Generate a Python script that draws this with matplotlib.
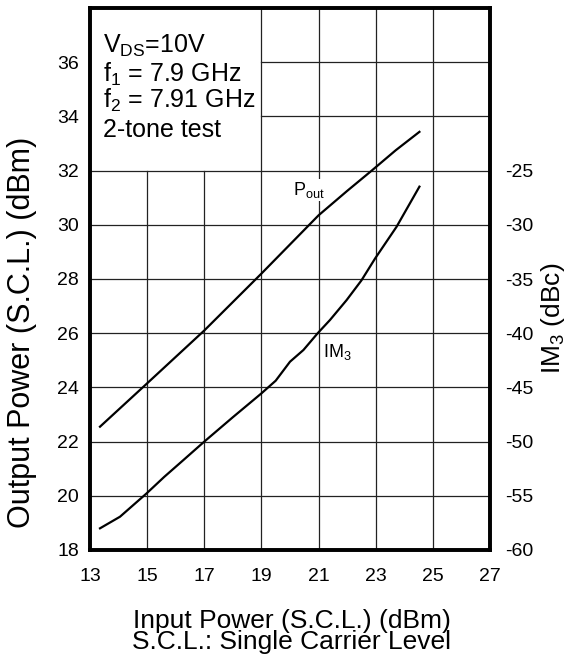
import matplotlib
matplotlib.use("Agg")
import matplotlib.pyplot as plt

plt.rcParams['font.family'] = ['Liberation Sans', 'DejaVu Sans']
plt.rcParams['mathtext.fontset'] = 'custom'
plt.rcParams['mathtext.rm'] = 'Liberation Sans'
plt.rcParams['mathtext.it'] = 'Liberation Sans'
plt.rcParams['axes.unicode_minus'] = False

# Data
pin_pout = [13.35, 15.0, 17.0, 19.0, 21.0, 22.0, 22.86, 23.7, 24.53]
pout = [22.55, 24.15, 26.1, 28.2, 30.35, 31.25, 32.0, 32.75, 33.43]

pin_im3 = [13.35, 14.05, 14.98, 15.6, 16.27, 17.0, 18.0, 19.0, 19.5, 20.0,
           20.47, 20.97, 21.4, 21.98, 22.5, 22.98, 23.73, 24.53]
im3 = [-58.0, -56.93, -54.78, -53.25, -51.7, -50.0, -47.75, -45.55, -44.38, -42.63,
       -41.55, -40.0, -38.78, -36.95, -35.13, -33.1, -30.18, -26.48]

x_ticks = [13, 15, 17, 19, 21, 23, 25, 27]
y_ticks = [18, 20, 22, 24, 26, 28, 30, 32, 34, 36]
y2_ticks = [-60, -55, -50, -45, -40, -35, -30, -25]

fig = plt.figure(figsize=(5.8, 6.54), dpi=100)
ax = fig.add_axes([90/580, 1-550/654, 400/580, 542/654])
ax.set_xlim(13, 27)
ax.set_ylim(18, 38)

# grid (partially hidden by the annotation box)
gc = '#222222'
for xv in x_ticks[1:-1]:
    top = 38 if xv >= 19 else 32
    ax.plot([xv, xv], [18, top], color=gc, lw=0.9, zorder=1)
for yv in y_ticks[1:]:
    left = 13 if yv <= 32 else 19
    ax.plot([left, 27], [yv, yv], color=gc, lw=0.9, zorder=1)

ax.plot(pin_pout, pout, color='black', lw=1.6, zorder=3)

ax.set_xticks(x_ticks)
ax.set_yticks(y_ticks)
ax.tick_params(axis='both', length=0, labelsize=14, colors='black')
ax.tick_params(axis='x', pad=13)
ax.tick_params(axis='y', pad=8)
for s in ax.spines.values():
    s.set_linewidth(2.6)
    s.set_zorder(5)

ax2 = ax.twinx()
ax2.set_ylim(-60, -10)
ax2.plot(pin_im3, im3, color='black', lw=1.6, zorder=3)
ax2.set_yticks(y2_ticks)
ax2.tick_params(axis='y', length=0, labelsize=14, pad=11, colors='black')
for s in ax2.spines.values():
    s.set_linewidth(2.6)

# annotation text
fs = 18
ax.text(13.45, 36.34, r'V$_{\rm DS}$=10V', fontsize=fs, va='baseline', ha='left')
ax.text(13.45, 35.27, r'f$_{\rm 1}$ = 7.9 GHz', fontsize=fs, va='baseline', ha='left')
ax.text(13.45, 34.31, r'f$_{\rm 2}$ = 7.91 GHz', fontsize=fs, va='baseline', ha='left')
ax.text(13.45, 33.24, '2-tone test', fontsize=fs, va='baseline', ha='left')

ax.text(20.1, 31.1, r'P$_{\rm out}$', fontsize=13, va='baseline', ha='left', zorder=4,
        bbox=dict(facecolor='white', edgecolor='none', pad=1))
ax.text(21.16, 25.12, r'IM$_{\rm 3}$', fontsize=13, va='baseline', ha='left', zorder=4)

fig.text(22/580, 1-332/654, 'Output Power (S.C.L.) (dBm)', rotation=90,
         fontsize=22, ha='center', va='center')
fig.text(553/580, 1-318/654, r'IM$_{\rm 3}$ (dBc)', rotation=90,
         fontsize=19, ha='center', va='center')
fig.text(292/580, 1-649/654, 'Input Power (S.C.L.) (dBm)\nS.C.L.: Single Carrier Level',
         fontsize=19, ha='center', va='baseline', multialignment='center',
         linespacing=0.85)

fig.savefig('out.png', dpi=100)
